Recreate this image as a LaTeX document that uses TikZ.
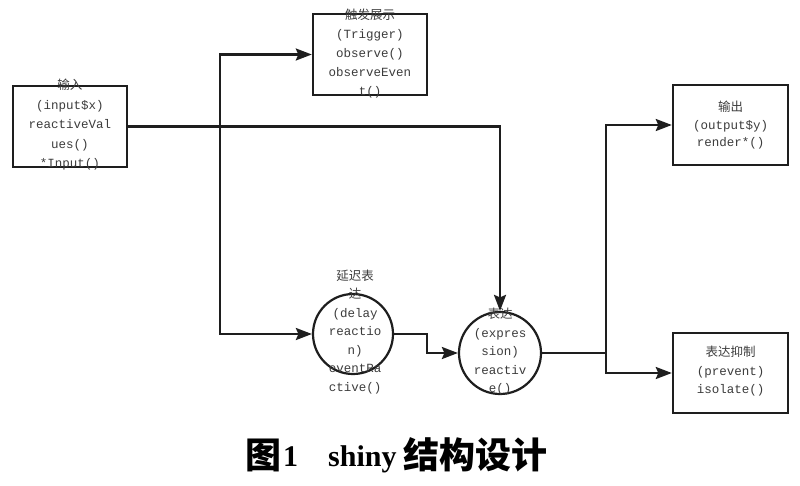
\documentclass[tikz,border=0pt]{standalone}
\usepackage{fontspec}
\setmainfont{Liberation Serif}
\setmonofont{Liberation Mono}
\newfontfamily\cjk{Noto Sans CJK SC}
\usetikzlibrary{arrows.meta}
\definecolor{ln}{HTML}{1E1E1E}
\definecolor{tx}{HTML}{3C3C3C}
\tikzset{
  boxnode/.style={draw=ln, line width=2.4pt, minimum width=114pt, minimum height=81pt, inner sep=0pt},
  ringnode/.style={draw=ln, line width=2.2pt, circle, minimum size=#1, inner sep=0pt},
  codetext/.style={text=tx, align=center, inner sep=0pt, font=\ttfamily\fontsize{12.5}{#1}\selectfont},
  conn/.style={draw=ln, line width=2.4pt},
  arr/.style={conn, -{Stealth[length=16pt, width=12pt, inset=2.5pt]}},
  captext/.style={inner sep=0pt, anchor=base west}
}
\begin{document}
\begin{tikzpicture}[x=1pt, y=-1pt]
\useasboundingbox (0,0) rectangle (800,485);
% shapes
\node[boxnode] (inbox) at (70,126.5) {};
\node[boxnode] (trig) at (370,54.5) {};
\node[boxnode, minimum width=115pt, minimum height=80pt] (outbox) at (730.5,125) {};
\node[boxnode, minimum width=115pt, minimum height=80pt] (prev) at (730.5,373) {};
\node[ringnode=80pt] (delay) at (353,334) {};
\node[ringnode=82pt] (expr) at (500,353) {};
% junctions
\coordinate (j1) at (220,126);
\coordinate (j2) at (606,353);
% connectors
\draw[arr] (inbox.east) -| (expr.north);
\draw[arr] (j1) |- (trig.west);
\draw[arr] (j1) |- (delay.west);
\draw[arr] (delay.east) -- (427,334) -- (427,353) -- (expr.west);
\draw[conn] (expr.east) -- (j2);
\draw[arr] (j2) |- (outbox.west);
\draw[arr] (j2) |- (prev.west);
% texts
\node[codetext=19.5] (intext) at (70,125) {{\cjk 输入}\\(input\$x)\\reactiveVal\\ues()\\*Input()};
\node[codetext=19] (trigtext) at (370,54) {{\cjk 触发展示}\\(Trigger)\\observe()\\observeEven\\t()};
\node[codetext=17.5] (outtext) at (730.5,125.5) {{\cjk 输出}\\(output\$y)\\render*()};
\node[codetext=18.5] (prevtext) at (730.5,371.5) {{\cjk 表达抑制}\\(prevent)\\isolate()};
\node[codetext=18.5] (delaytext) at (355,332) {{\cjk 延迟表}\\{\cjk 达}\\(delay\\reactio\\n)\\eventRa\\ctive()};
\node[codetext=18.5] (exprtext) at (500,352) {{\cjk 表达}\\(expres\\sion)\\reactiv\\e()};
% caption
\node[captext] (cap1) at (245,468) {\cjk\bfseries\fontsize{36}{36}\selectfont 图};
\node[captext] (cap2) at (283,466) {\bfseries\fontsize{30}{30}\selectfont 1};
\node[captext] (cap3) at (328,466) {\bfseries\fontsize{30}{30}\selectfont shiny};
\node[captext] (cap4) at (403,468) {\cjk\bfseries\fontsize{36}{36}\selectfont 结构设计};
\end{tikzpicture}
\end{document}
